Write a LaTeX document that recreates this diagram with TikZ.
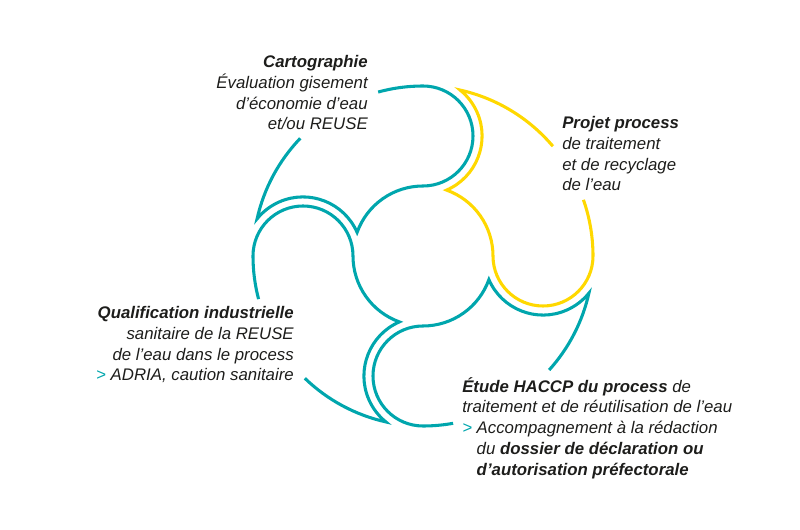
\documentclass[tikz,border=0pt]{standalone}
\usepackage{fontspec}
\setmainfont{Liberation Sans}
\usepackage{tikz}
\usetikzlibrary{positioning}
\definecolor{eauteal}{RGB}{0,166,173}
\definecolor{eauyellow}{RGB}{255,216,0}
\definecolor{eautext}{RGB}{29,29,27}
\tikzset{
  petal/.style={line width=2.3pt, color=eauteal},
  petalyellow/.style={line width=2.3pt, color=eauyellow},
  caption/.style={inner sep=0pt, text=eautext, font=\fontsize{12.6pt}{15.6pt}\selectfont\itshape}
}
\begin{document}
\begin{tikzpicture}[x=0.75pt,y=0.75pt]
\useasboundingbox (-423,-274) rectangle (377,256);
\draw[petal] (105.3:170) arc[start angle=105.3, end angle=90, radius=170]
  arc[start angle=90, end angle=-90, radius=50]
  arc[start angle=90, end angle=160.3, radius=70]
  arc[start angle=23.5, end angle=141.1, radius=59]
  arc[start angle=167.4, end angle=136.2, radius=170];
\draw[petalyellow] (19.3:170) arc[start angle=19.3, end angle=0, radius=170]
  arc[start angle=0, end angle=-180, radius=50]
  arc[start angle=0, end angle=70.3, radius=70]
  arc[start angle=-66.5, end angle=51.1, radius=59]
  arc[start angle=77.4, end angle=40.2, radius=170];
\draw[petal] (-79.8:170) arc[start angle=-79.8, end angle=-90, radius=170]
  arc[start angle=-90, end angle=-270, radius=50]
  arc[start angle=-90, end angle=-19.7, radius=70]
  arc[start angle=-156.5, end angle=-38.9, radius=59]
  arc[start angle=-12.6, end angle=-42.1, radius=170];
\draw[petal] (194.7:170) arc[start angle=194.7, end angle=180, radius=170]
  arc[start angle=180, end angle=0, radius=50]
  arc[start angle=180, end angle=250.3, radius=70]
  arc[start angle=113.5, end angle=231.1, radius=59]
  arc[start angle=257.4, end angle=226, radius=170];
\node[caption, anchor=north east, align=right] (carto) at (-55,201)
  {{\bfseries Cartographie}\\ Évaluation gisement\\ d’économie d’eau\\ et/ou REUSE};
\node[caption, anchor=north west, align=left] (projet) at (139,140)
  {{\bfseries Projet process}\\ de traitement\\ et de recyclage\\ de l’eau};
\node[caption, anchor=north east, align=right] (qualif) at (-129,-50)
  {{\bfseries Qualification industrielle}\\ sanitaire de la REUSE\\ de l’eau dans le process\\ {\color{eauteal}>} ADRIA, caution sanitaire};
\node[caption, anchor=north west, align=left] (haccp) at (39,-121)
  {{\bfseries Étude HACCP du process} de\\ traitement et de réutilisation de l’eau\\ {\color{eauteal}>} Accompagnement à la rédaction\\ \hphantom{>\ }du {\bfseries dossier de déclaration ou}\\ \hphantom{>\ }{\bfseries d’autorisation préfectorale}};
\end{tikzpicture}
\end{document}
